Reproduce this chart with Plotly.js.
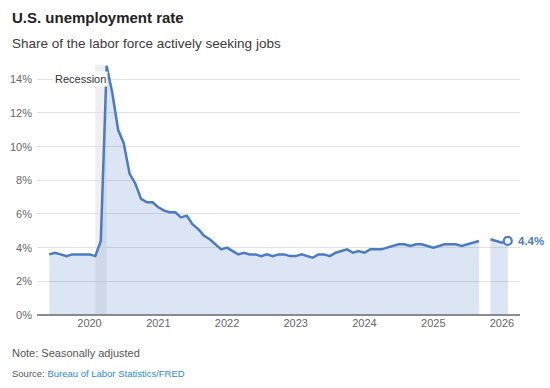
<!DOCTYPE html>
<html><head><meta charset="utf-8">
<script src="https://cdn.plot.ly/plotly-3.0.1.min.js"></script>
<style>html,body{margin:0;padding:0;background:#fff}#chart{width:550px;height:388px}</style>
</head><body><div id="chart"></div>
<script>
// Monthly U.S. unemployment rate, seasonally adjusted, starting June 2019 (Oct 2025 missing)
const startYear = 2019, startMonthIndex = 5; // June 2019
const rates = [
  3.6, 3.7, 3.6, 3.5, 3.6, 3.6, 3.6,                              // 2019 Jun-Dec
  3.6, 3.5, 4.4, 14.8, 13.2, 11.0, 10.2, 8.4, 7.8, 6.9, 6.7, 6.7, // 2020
  6.4, 6.2, 6.1, 6.1, 5.8, 5.9, 5.4, 5.1, 4.7, 4.5, 4.2, 3.9,     // 2021
  4.0, 3.8, 3.6, 3.7, 3.6, 3.6, 3.5, 3.6, 3.5, 3.6, 3.6, 3.5,     // 2022
  3.5, 3.6, 3.5, 3.4, 3.6, 3.6, 3.5, 3.7, 3.8, 3.9, 3.7, 3.8,     // 2023
  3.7, 3.9, 3.9, 3.9, 4.0, 4.1, 4.2, 4.2, 4.1, 4.2, 4.2, 4.1,     // 2024
  4.0, 4.1, 4.2, 4.2, 4.2, 4.1, 4.2, 4.3, 4.4, null, 4.5, 4.4,    // 2025
  4.3, 4.4                                                        // 2026 Jan-Feb
];
const yTickValues = [0, 2, 4, 6, 8, 10, 12, 14];
const yTickLabels = ['0%', '2%', '4%', '6%', '8%', '10%', '12%', '14%'];
const yearTickValues = ['2020-01-01', '2021-01-01', '2022-01-01', '2023-01-01', '2024-01-01', '2025-01-01', '2026-01-01'];
const yearTickLabels = ['2020', '2021', '2022', '2023', '2024', '2025', '2026'];
const recessionStart = '2020-02-01', recessionEnd = '2020-04-01';
const recessionLabel = 'Recession';

function monthDate(i) {
  const d = new Date(Date.UTC(startYear, startMonthIndex + i, 1));
  return d.toISOString().slice(0, 10);
}
const dates = rates.map((_, i) => monthDate(i));

const LINE = '#4b7bc4';
const FILL = 'rgba(75,123,196,0.2)';

// split into contiguous segments at missing months
const segments = [];
let cur = null;
rates.forEach((v, i) => {
  if (v === null) { cur = null; return; }
  if (!cur) { cur = {x: [], y: []}; segments.push(cur); }
  cur.x.push(dates[i]); cur.y.push(v);
});

const traces = segments.map(s => ({
  type: 'scatter', mode: 'lines', x: s.x, y: s.y,
  fill: 'tozeroy', fillcolor: FILL,
  line: {color: LINE, width: 2.5, shape: 'linear'},
  hoverinfo: 'skip', showlegend: false
}));
const lastIdx = rates.length - 1;
traces.push({
  type: 'scatter', mode: 'markers', x: [dates[lastIdx]], y: [rates[lastIdx]],
  marker: {size: 8, color: '#ffffff', line: {color: LINE, width: 2.2}},
  hoverinfo: 'skip', showlegend: false
});

const L = 37, R = 30, T = 65, B = 73, W = 550, H = 388;
const plotW = W - L - R, plotH = H - T - B;
const px = x => (x - L) / plotW;
const py = y => (H - B - y) / plotH;

const layout = {
  width: W, height: H,
  margin: {l: L, r: R, t: T, b: B, pad: 0},
  paper_bgcolor: '#ffffff', plot_bgcolor: '#ffffff',
  font: {family: 'Liberation Sans, Arial, sans-serif', color: '#666666', size: 11},
  showlegend: false, hovermode: false,
  xaxis: {
    type: 'date', range: ['2019-03-28', '2026-04-07'],
    tickvals: yearTickValues, ticktext: yearTickLabels,
    showgrid: false, zeroline: false, showline: false, ticks: '',
    tickfont: {size: 11, color: '#666666'}, fixedrange: true
  },
  yaxis: {
    range: [0, 14.85], tickvals: yTickValues, ticktext: yTickLabels,
    showgrid: true, gridcolor: '#e2e2e2', gridwidth: 1,
    zeroline: true, zerolinecolor: '#8c8c8c', zerolinewidth: 1.5,
    showline: false, ticks: '', ticklabelstandoff: 4,
    tickfont: {size: 11, color: '#666666'}, fixedrange: true
  },
  shapes: [{
    type: 'rect', xref: 'x', yref: 'paper', x0: recessionStart, x1: recessionEnd, y0: 0, y1: 1,
    fillcolor: '#efefef', line: {width: 0}, layer: 'below'
  }],
  annotations: [
    {xref: 'paper', yref: 'paper', x: px(10), y: py(17), xanchor: 'left', yanchor: 'middle',
     text: '<b>U.S. unemployment rate</b>', showarrow: false,
     font: {size: 15, color: '#222222', family: 'Liberation Sans, Arial, sans-serif'}},
    {xref: 'paper', yref: 'paper', x: px(10), y: py(44), xanchor: 'left', yanchor: 'middle',
     text: 'Share of the labor force actively seeking jobs', showarrow: false,
     font: {size: 13.5, color: '#3a3a3a'}},
    {xref: 'x', yref: 'y', x: recessionEnd, y: 14, xanchor: 'right', yanchor: 'middle',
     xshift: 1, text: recessionLabel, showarrow: false, bgcolor: '#ffffff', borderpad: 1,
     font: {size: 11, color: '#333333'}},
    {xref: 'x', yref: 'y', x: dates[lastIdx], y: rates[lastIdx], xanchor: 'left', yanchor: 'middle',
     xshift: 8, text: '<b>' + rates[lastIdx].toFixed(1) + '%</b>', showarrow: false,
     font: {size: 11.5, color: LINE}},
    {xref: 'paper', yref: 'paper', x: px(10), y: py(353), xanchor: 'left', yanchor: 'middle',
     text: 'Note: Seasonally adjusted', showarrow: false,
     font: {size: 11, color: '#555555'}},
    {xref: 'paper', yref: 'paper', x: px(10), y: py(373.5), xanchor: 'left', yanchor: 'middle',
     text: 'Source: <span style="color:#2b8ad3">Bureau of Labor Statistics/FRED</span>', showarrow: false,
     font: {size: 9.5, color: '#555555'}}
  ]
};

Plotly.newPlot('chart', traces, layout, {staticPlot: true, displayModeBar: false});
</script>
</body></html>
